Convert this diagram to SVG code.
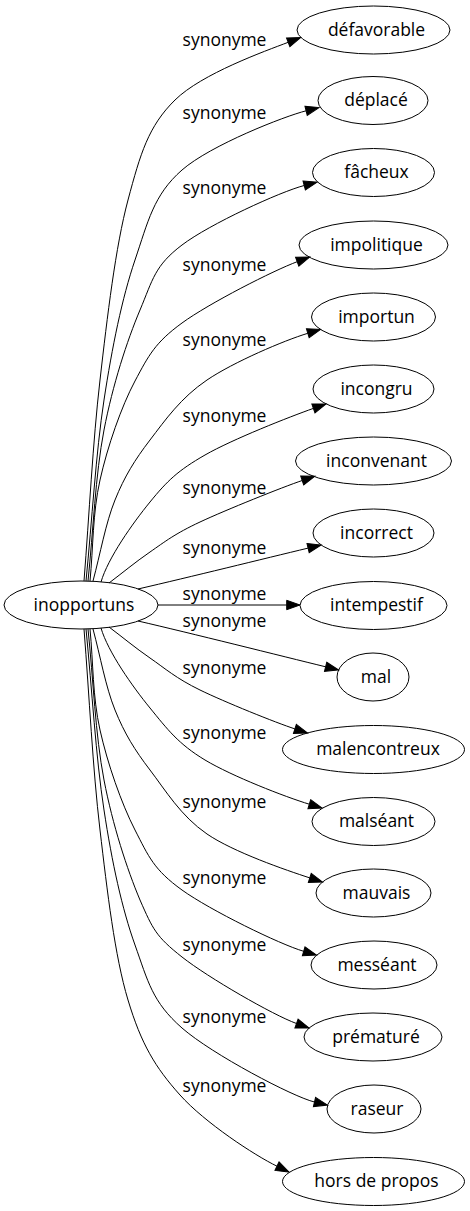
<svg xmlns="http://www.w3.org/2000/svg" width="470" height="1211" viewBox="0 0 470 1211">
<style>
.node ellipse{fill:none;stroke:#000;stroke-width:1}
text{font-family:"Open Sans","DejaVu Sans",sans-serif;font-size:17.5px;text-anchor:middle;fill:#000}
.edges path{fill:none;stroke:#000;stroke-width:1;marker-end:url(#arr)}
</style>
<defs>
<marker id="arr" markerUnits="userSpaceOnUse" markerWidth="14" markerHeight="10" refX="0" refY="4.7" orient="auto" overflow="visible">
<path d="M0,0 L13.3,4.7 L0,9.4 Z" fill="#000" stroke="#000" stroke-width="1"/>
</marker>
</defs>
<rect width="470" height="1211" fill="#fff"/>
<g class="edges">
<path d="M84,581 C89.3,514 92.7,443.5 100,380 C107.3,316.5 115.5,246.7 128,200 C140.5,153.3 148.3,126.3 175,100 C201.7,73.7 264.8,51.2 288.2,42.3"/>
<path d="M86,581 C92,520.7 95.8,453.5 104,400 C112.2,346.5 122,298.3 135,260 C148,221.7 153.5,194.9 182,170 C210.5,145.1 284.8,116.1 306.1,110.8"/>
<path d="M88,581 C93.3,530.7 95.3,475.2 104,430 C112.7,384.8 127,340.8 140,310 C153,279.2 154.6,265.8 182,245 C209.4,224.2 280,191.8 304.2,185.5"/>
<path d="M90,581 C93.3,547.3 92.5,513.5 100,480 C107.5,446.5 121.3,406.7 135,381 C148.7,355.3 155,342.7 182,323 C209,303.3 273.5,270.5 297.2,261.7"/>
<path d="M93,581 C100.3,554 105.5,523.5 115,500 C124.5,476.5 134.7,460 150,440 C165.3,420 180.7,397.8 207,380 C233.3,362.2 283.9,340.5 307.8,333.3"/>
<path d="M101,582 C108,558 132.7,523.2 150,502 C167.3,480.8 177.8,470.6 205,455 C232.2,439.4 289.8,416.7 313.4,408.4"/>
<path d="M109,583 C122.7,572.7 134.8,562.5 150,552 C165.2,541.5 174.6,533.9 200,522 C225.4,510.1 282.9,487 302.2,480.5"/>
<path d="M138,589 C190,577 264.4,558.6 308.1,548.1"/>
<path d="M158,605 L286.7,605"/>
<path d="M138,621 C190,633 281.9,656.1 325.6,666.8"/>
<path d="M109,627 C122.7,637.3 134.8,647.5 150,658 C165.2,668.5 175.8,678.2 200,690 C224.2,701.8 275.9,722.7 294.9,728.9"/>
<path d="M101,628 C108,652 132.7,686.8 150,708 C167.3,729.2 178.4,744 205,760 C231.6,776 285.4,797 309.3,804.2"/>
<path d="M93,629 C100.3,656 105.5,686.5 115,710 C124.5,733.5 134.7,750 150,770 C165.3,790 180.7,816 207,834 C233.3,852 286.1,870.2 309.8,877.9"/>
<path d="M90,629 C93.3,662.7 92.5,696.5 100,730 C107.5,763.5 121.3,803.3 135,830 C148.7,856.7 153.9,869.8 182,890 C210.1,910.2 279.7,944.3 303.7,951.3"/>
<path d="M88,629 C93.3,679.3 95.3,734.8 104,780 C112.7,825.2 127,869.2 140,900 C153,929.5 155.9,936.4 182,957 C208.1,977.6 273,1015 296.5,1023.5"/>
<path d="M86,629 C92,689.3 95.8,757.3 104,810 C112,862.7 122,908.7 135,945 C148,981.3 152.1,1001.8 182,1028 C211.9,1054.2 293.1,1096.9 314.5,1102"/>
<path d="M84,629 C89.3,696 92.7,768.2 100,830 C107.3,891.8 114.7,955.8 128,1000 C141.3,1044.2 155.2,1067.3 180,1095 C204.8,1122.7 254.5,1155.3 277,1166.2"/>
</g>
<g class="labels">
<text x="224.5" y="45.5">synonyme</text>
<text x="224.5" y="118.5">synonyme</text>
<text x="224.5" y="193.5">synonyme</text>
<text x="224.5" y="270.5">synonyme</text>
<text x="224.5" y="345.5">synonyme</text>
<text x="224.5" y="421.5">synonyme</text>
<text x="224.5" y="494">synonyme</text>
<text x="224.5" y="554">synonyme</text>
<text x="224.5" y="599.5">synonyme</text>
<text x="224.5" y="626.5">synonyme</text>
<text x="224.5" y="673.5">synonyme</text>
<text x="224.5" y="738.5">synonyme</text>
<text x="224.5" y="807.5">synonyme</text>
<text x="224.5" y="883.5">synonyme</text>
<text x="224.5" y="950.5">synonyme</text>
<text x="224.5" y="1022.5">synonyme</text>
<text x="224.5" y="1091.5">synonyme</text>
</g>
<g id="n0" class="node"><ellipse cx="81" cy="605" rx="77" ry="24"/><text x="84" y="610.5">inopportuns</text></g>
<g id="n1" class="node"><ellipse cx="373.5" cy="30" rx="76.5" ry="24"/><text x="376.5" y="35.5">défavorable</text></g>
<g id="n2" class="node"><ellipse cx="373" cy="100.5" rx="55" ry="24"/><text x="376" y="106">déplacé</text></g>
<g id="n3" class="node"><ellipse cx="373.5" cy="172.5" rx="61" ry="24"/><text x="376.5" y="178">fâcheux</text></g>
<g id="n4" class="node"><ellipse cx="373.5" cy="245" rx="74.5" ry="24"/><text x="376.5" y="250.5">impolitique</text></g>
<g id="n5" class="node"><ellipse cx="373.5" cy="317" rx="62" ry="24"/><text x="376.5" y="322.5">importun</text></g>
<g id="n6" class="node"><ellipse cx="373.5" cy="389" rx="60.5" ry="24"/><text x="376.5" y="394.5">incongru</text></g>
<g id="n7" class="node"><ellipse cx="373.5" cy="461" rx="78" ry="24"/><text x="376.5" y="466.5">inconvenant</text></g>
<g id="n8" class="node"><ellipse cx="373.5" cy="533" rx="60.5" ry="24"/><text x="376.5" y="538.5">incorrect</text></g>
<g id="n9" class="node"><ellipse cx="373.5" cy="605.5" rx="73.5" ry="24"/><text x="376.5" y="611">intempestif</text></g>
<g id="n10" class="node"><ellipse cx="373" cy="677" rx="36" ry="24"/><text x="376" y="682.5">mal</text></g>
<g id="n11" class="node"><ellipse cx="373.5" cy="749.5" rx="91" ry="24"/><text x="378" y="755">malencontreux</text></g>
<g id="n12" class="node"><ellipse cx="373.5" cy="821.5" rx="61.5" ry="24"/><text x="376.5" y="827">malséant</text></g>
<g id="n13" class="node"><ellipse cx="373.5" cy="893" rx="57.5" ry="24"/><text x="376.5" y="898.5">mauvais</text></g>
<g id="n14" class="node"><ellipse cx="374" cy="965" rx="63" ry="24"/><text x="377" y="970.5">messéant</text></g>
<g id="n15" class="node"><ellipse cx="373" cy="1037" rx="69" ry="24"/><text x="376" y="1042.5">prématuré</text></g>
<g id="n16" class="node"><ellipse cx="374" cy="1109" rx="47" ry="24"/><text x="377" y="1114.5">raseur</text></g>
<g id="n17" class="node"><ellipse cx="373.5" cy="1181.5" rx="91" ry="24"/><text x="376.5" y="1187">hors de propos</text></g>
</svg>
